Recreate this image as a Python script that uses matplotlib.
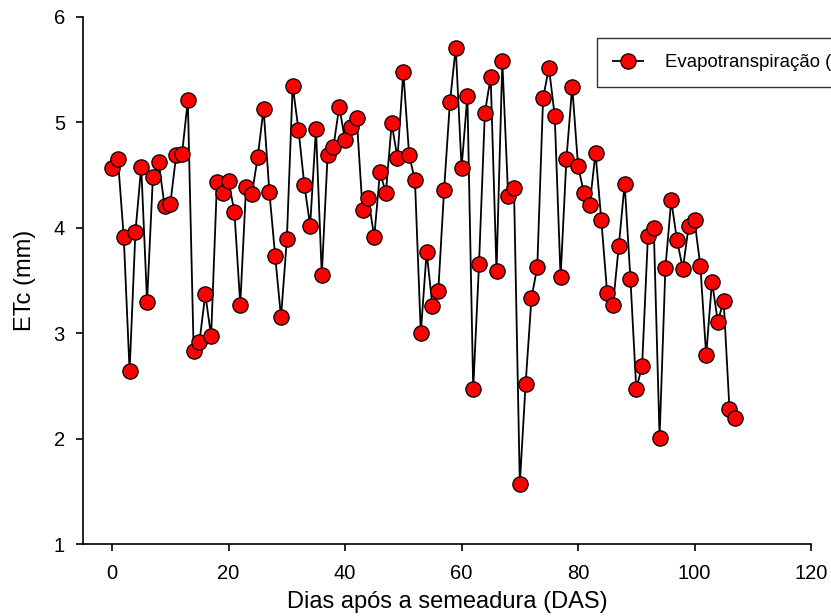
import matplotlib
matplotlib.use("Agg")
import matplotlib.pyplot as plt

days = list(range(0, 108))
etc = [4.57, 4.65, 3.91, 2.64, 3.96, 4.58, 3.30, 4.48, 4.62, 4.21,
       4.23, 4.69, 4.70, 5.21, 2.83, 2.92, 3.37, 2.97, 4.43, 4.33,
       4.44, 4.15, 3.27, 4.39, 4.32, 4.67, 5.13, 4.34, 3.73, 3.15,
       3.89, 5.35, 4.93, 4.41, 4.02, 4.94, 3.55, 4.69, 4.77, 5.15,
       4.83, 4.96, 5.04, 4.17, 4.28, 3.91, 4.53, 4.33, 4.99, 4.66,
       5.48, 4.69, 4.45, 3.00, 3.77, 3.26, 3.40, 4.36, 5.19, 5.71,
       4.57, 5.25, 2.47, 3.66, 5.09, 5.43, 3.59, 5.58, 4.30, 4.38,
       1.57, 2.52, 3.33, 3.63, 5.23, 5.52, 5.06, 3.53, 4.65, 5.34,
       4.59, 4.33, 4.22, 4.71, 4.07, 3.38, 3.27, 3.83, 4.42, 3.51,
       2.47, 2.69, 3.92, 4.00, 2.01, 3.62, 4.26, 3.88, 3.61, 4.02,
       4.07, 3.64, 2.79, 3.49, 3.11, 3.31, 2.28, 2.20]
xticks = [0, 20, 40, 60, 80, 100, 120]
yticks = [1, 2, 3, 4, 5, 6]
label = "Evapotranspiração (mm)"

plt.rcParams['font.family'] = ['Liberation Sans', 'DejaVu Sans']

fig = plt.figure(figsize=(8.31, 6.16), dpi=100)
ax = fig.add_axes([83/831, 1-544/616, (811-83)/831, (544-17)/616])
ax.plot(days, etc, color='black', lw=1.3, marker='o', markersize=11,
        markerfacecolor='#ff0000', markeredgecolor='black', markeredgewidth=0.9,
        label=label, clip_on=False)
ax.set_xlim(-5, 120)
ax.set_ylim(1, 6)
ax.set_xticks(xticks)
ax.set_yticks(yticks)
ax.spines['top'].set_visible(False)
ax.spines['right'].set_visible(False)
ax.spines['left'].set_linewidth(1.2)
ax.spines['bottom'].set_linewidth(1.2)
ax.tick_params(direction='out', length=5, width=1.2, labelsize=14.5)
ax.tick_params(axis='x', pad=9.5)
ax.tick_params(axis='y', pad=8)
ax.set_xlabel('Dias após a semeadura (DAS)', fontsize=17, labelpad=6)
ax.set_ylabel('ETc (mm)', fontsize=17, labelpad=13)
leg = ax.legend(loc='upper left', bbox_to_anchor=(597/831, 1-38/616),
                bbox_transform=fig.transFigure, fontsize=13.4, frameon=True,
                fancybox=False, edgecolor='black', borderpad=0.87,
                borderaxespad=0, handlelength=1.6, handletextpad=1.2)
leg.get_frame().set_linewidth(1.0)
fig.savefig('out.png', dpi=100)
